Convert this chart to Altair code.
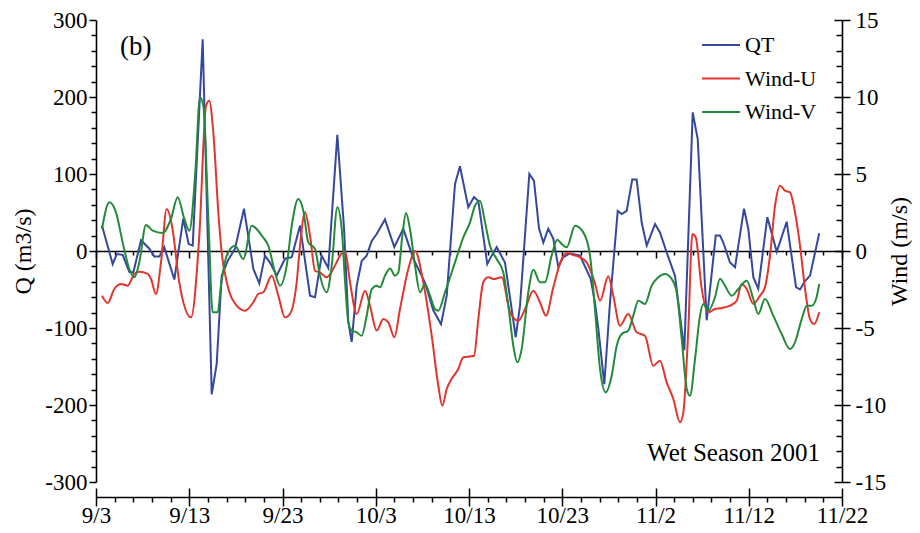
import altair as alt
import pandas as pd

START = "2001-09-03"
SERIES = ["QT", "Wind-U", "Wind-V"]
COLORS = ["#34489c", "#e2352e", "#238a3a"]

# QT (m3/s): day offsets from 9/3 and values
qt_day = [0.64, 1.79, 2.22, 2.86, 3.57, 4.00, 4.83, 5.72, 6.25, 6.79, 7.32, 8.40, 9.36, 9.94, 10.37,
          11.44, 12.41, 12.94, 13.48, 14.16, 14.91, 15.87, 16.87, 17.51, 18.12, 18.66, 19.38, 20.27,
          20.99, 21.88, 22.95, 23.49, 24.20, 24.91, 25.88, 26.60, 27.06, 27.42, 27.96, 28.49, 29.03,
          29.57, 30.10, 30.99, 31.99, 32.95, 34.03, 35.28, 36.17, 37.00, 37.61, 38.50, 39.03, 39.92,
          40.54, 41.00, 41.96, 42.43, 42.97, 43.86, 45.01, 45.47, 46.47, 46.97, 47.51, 47.97, 48.50,
          49.04, 49.58, 50.11, 50.83, 51.90, 53.05, 53.51, 53.87, 54.51, 55.12, 55.95, 56.38, 56.91,
          57.51, 57.98, 58.52, 59.06, 59.95, 60.48, 61.20, 62.09, 63.09, 63.99, 64.53, 65.49, 66.46,
          66.92, 67.27, 67.99, 68.53, 69.49, 69.95, 70.49, 71.02, 71.99, 73.00, 74.07, 75.07, 75.50,
          76.04, 76.57, 77.56]
qt_val = [33, -17, -4, -5, -27, -28, 14, 3, -7, -7, 5, -37, 42, 9, 7,
          275, -186, -147, -32, -12, 3, 55, -23, -42, -6, -15, -32, -10,
          -8, 33, -58, -60, -6, -22, 151, 29, -92, -118, -45, -13, -6,
          13, 22, 41, 5, 29, -10, -41, -77, -95, -58, 87, 110, 57,
          70, 65, -17, -6, 5, -15, -112, -71, 100, 91, 29, 11, 29,
          16, -21, -8, -3, -6, -36, -67, -101, -173, -67, 52, 48, 52,
          93, 93, 37, 7, 35, 24, -2, -32, -129, 180, 145, -90, 20,
          20, 11, -15, -21, 55, 29, -34, -49, 44, -1, 38, -47, -50,
          -39, -32, 23]

# Wind-U (m/s)
u_day = [0.64, 1.25, 1.96, 2.68, 3.40, 4.11, 4.64, 5.54, 5.90, 6.43, 6.97, 7.58, 8.15, 8.93, 10.19,
         11.08, 11.80, 12.15, 12.58, 13.12, 13.46, 14.02, 15.09, 15.98, 16.87, 17.40, 17.94, 18.84,
         19.55, 20.27, 20.80, 21.52, 21.88, 22.41, 22.95, 23.49, 24.02, 24.74, 25.63, 26.17, 26.70,
         27.24, 27.96, 28.85, 29.38, 30.10, 30.81, 31.35, 31.99, 32.60, 33.49, 34.21, 35.10, 36.00,
         36.71, 37.14, 37.61, 38.14, 38.85, 39.39, 40.11, 40.54, 41.00, 41.53, 42.07, 42.61, 43.51,
         44.40, 45.29, 46.01, 46.90, 47.61, 48.26, 49.04, 49.94, 50.48, 51.19, 51.90, 52.62, 53.51,
         54.05, 54.94, 55.47, 56.19, 57.08, 57.98, 58.87, 59.76, 60.48, 61.20, 61.91, 62.63, 62.98,
         63.52, 63.95, 64.31, 64.96, 65.66, 66.38, 66.92, 67.99, 68.71, 69.24, 69.78, 70.49, 71.21,
         71.74, 72.28, 72.82, 73.35, 73.89, 74.42, 74.96, 75.50, 76.04, 76.57, 77.03, 77.56]
u_val = [-2.90, -3.38, -2.47, -2.14, -2.25, -1.49, -1.34, -1.49, -1.82, -2.79, -0.74, 2.73, 1.64, -2.03, -4.31,
         1.0, 9.44, 9.76, 7.7, 2.5, 0.0, -2.0, -3.55, -3.88, -3.33, -2.79, -2.68, -1.6,
         -2.9, -4.31, -4.09, -2.03, 0.34, 2.51, 1.0, -1.28, -1.39, -1.71, -0.95, -0.3, 0.0,
         -2.03, -4.09, -2.58, -3.55, -5.17, -4.42, -4.63, -5.6, -3.77, -1.17, 0.0, -2.03, -5.5,
         -8.75, -10.05, -8.96, -8.3, -7.66, -6.9, -6.85, -6.8, -4.42, -2.03, -1.71, -1.82, -1.71,
         -3.98, -4.53, -3.77, -2.58, -3.33, -4.2, -2.36, -0.52, -0.13, -0.26, -0.41, -0.74, -2.1,
         -3.23, -1.64, -2.9, -4.85, -4.09, -5.28, -5.5, -7.45, -7.12, -8.53, -9.61, -11.13, -10.5,
         -5.06, 1.1, 0.89, -2.47, -3.98, -3.77, -3.72, -3.55, -3.23, -2.14, -2.47, -3.44, -2.9,
         -2.36, -0.3, 2.94, 4.24, 3.92, 3.81, 2.51, 0.34, -2.47, -4.42, -4.74, -3.98]

# Wind-V (m/s)
v_day = [0.64, 1.43, 2.14, 2.86, 3.57, 4.11, 4.64, 5.36, 6.08, 7.15, 8.04, 8.76, 9.47, 10.01, 10.65,
         11.15, 11.51, 12.09, 12.51, 13.05, 13.40, 14.02, 14.91, 15.80, 16.70, 17.23, 17.77, 18.48,
         19.20, 19.73, 20.45, 20.99, 21.69, 22.23, 22.77, 23.49, 24.02, 24.74, 25.28, 25.88, 26.35,
         26.70, 27.06, 27.42, 27.96, 28.49, 29.03, 29.57, 30.10, 30.46, 30.99, 31.53, 32.06, 32.42,
         32.85, 33.24, 33.67, 34.21, 34.75, 35.28, 35.82, 36.35, 36.71, 37.43, 38.50, 39.39, 40.11,
         40.64, 41.18, 41.72, 42.25, 42.97, 43.68, 44.22, 44.75, 45.18, 45.65, 46.36, 46.90, 47.61,
         48.15, 48.86, 49.47, 49.94, 50.48, 51.37, 52.26, 52.98, 53.51, 54.05, 54.66, 55.30, 55.84,
         56.38, 57.08, 57.62, 58.16, 58.87, 59.59, 60.30, 61.02, 61.74, 62.27, 62.81, 63.35, 63.70,
         64.24, 64.77, 65.13, 65.66, 66.38, 66.92, 67.45, 68.17, 68.88, 69.78, 70.49, 71.02, 71.74,
         72.63, 73.53, 74.42, 74.96, 75.68, 76.22, 76.76, 77.22, 77.56]
v_val = [1.43, 3.16, 2.51, 0.56, -1.17, -1.71, -0.74, 1.69, 1.32, 1.17, 2.08, 3.49, 2.08, 1.32, 5.11,
         9.98, 9.44, 1.43, -3.98, -3.98, -2.25, -0.3, 0.34, -0.52, 1.64, 1.43, 1.0, 0.34,
         -1.39, -2.25, -0.95, 1.64, 3.38, 2.62, 0.56, 0.13, -1.6, -2.68, -0.95, 2.84, 1.43,
         -1.9, -4.63, -5.17, -5.28, -5.5, -4.2, -2.47, -2.25, -2.36, -1.6, -1.13, -1.6, -1.39,
         1.0, 2.47, 1.43, -0.95, -2.68, -2.14, -2.9, -3.77, -3.88, -2.68, -0.74, 0.89, 1.86,
         2.94, 3.27, 1.86, 0.34, -0.52, -1.39, -3.55, -6.15, -7.23, -6.36, -2.68, -1.21, -2.03,
         -2.03, -0.3, 0.73, 0.45, 0.24, 1.64, 1.21, -0.3, -3.8, -7.66, -9.18, -8.1, -6.15,
         -5.39, -5.17, -4.2, -3.23, -3.44, -2.25, -1.71, -1.49, -1.82, -2.68, -5.71, -8.96, -9.4,
         -7.01, -4.2, -3.44, -3.88, -3.0, -1.8, -2.25, -2.9, -2.47, -1.93, -3.12, -4.09, -3.12,
         -4.2, -5.39, -6.36, -5.93, -4.42, -3.55, -3.55, -3.12, -2.14]

Q_TICKS = list(range(-300, 301, 20))
WIND_TICKS = list(range(-15, 16, 1))

W, H = 746, 462


def frame(days, vals, name):
    dates = (pd.Timestamp(START) + pd.to_timedelta(days, unit="D")).round("min")
    return pd.DataFrame({"date": dates, "value": vals, "series": name})


qt_df = frame(qt_day, qt_val, "QT")
wind_df = pd.concat([frame(u_day, u_val, "Wind-U"), frame(v_day, v_val, "Wind-V")], ignore_index=True)

all_dates = pd.date_range("2001-09-03", "2001-11-22", freq="2D")
minor_vals = [alt.DateTime(year=d.year, month=d.month, date=d.day) for d in all_dates]
major_vals = [alt.DateTime(year=d.year, month=d.month, date=d.day)
              for d in pd.date_range("2001-09-03", "2001-11-22", freq="10D")]

IS_MAJOR_X = "round((datum.value - datetime(2001, 8, 3)) / 86400000) % 10 === 0"

x_scale = alt.Scale(domain=[alt.DateTime(year=2001, month=9, date=3),
                            alt.DateTime(year=2001, month=11, date=22)], nice=False)
q_scale = alt.Scale(domain=[-300, 300], nice=False, zero=False)
w_scale = alt.Scale(domain=[-15, 15], nice=False, zero=False)
color_scale = alt.Scale(domain=SERIES, range=COLORS)

legend = alt.Legend(orient="none", legendX=605, legendY=5, title=None, symbolType="stroke",
                    symbolSize=1444, symbolStrokeWidth=2, labelFont="Liberation Serif",
                    labelFontSize=22, labelColor="black", rowPadding=2.5, labelOffset=4, padding=0)

x_main_axis = alt.Axis(orient="bottom", offset=15, values=minor_vals, title=None,
                       labelExpr=f"({IS_MAJOR_X}) ? timeFormat(datum.value, '%-m/%-d') : ''",
                       tickSize={"condition": {"test": IS_MAJOR_X, "value": 9}, "value": 5},
                       labelPadding=-2, labelFlush=False, labelOverlap=False)
x_zero_axis = alt.Axis(orient="bottom", offset=-H / 2, values=minor_vals, title=None, labels=False,
                       tickSize={"condition": {"test": IS_MAJOR_X, "value": 7}, "value": 4})
x_cross_axis = alt.Axis(orient="top", offset=-(H + 15), values=major_vals, title=None,
                        labels=False, domain=False, tickSize=9)

left_axis = alt.Axis(orient="left", values=Q_TICKS, title="Q (m3/s)",
                     labelExpr="datum.value % 100 === 0 ? '' + datum.value : ''",
                     tickSize={"condition": {"test": "datum.value % 100 === 0", "value": 7}, "value": 5},
                     labelPadding=2, labelOverlap=False, titlePadding=9)
right_axis = alt.Axis(orient="right", values=WIND_TICKS, title="Wind (m/s)", titleAngle=270,
                      labelExpr="datum.value % 5 === 0 ? '' + datum.value : ''",
                      tickSize={"condition": {"test": "datum.value % 5 === 0", "value": 8}, "value": 0},
                      labelPadding=5, labelOverlap=False, titlePadding=26)
right_inner_axis = alt.Axis(orient="left", offset=-W, values=WIND_TICKS, title=None, labels=False,
                            domain=False,
                            tickSize={"condition": {"test": "datum.value % 5 === 0", "value": 8}, "value": 6})

qt_line = alt.Chart(qt_df).mark_line(strokeWidth=2).encode(
    x=alt.X("date:T", scale=x_scale, axis=x_main_axis),
    y=alt.Y("value:Q", scale=q_scale, axis=left_axis),
    color=alt.Color("series:N", scale=color_scale, legend=legend),
)

wind_line = alt.Chart(wind_df).mark_line(strokeWidth=2, interpolate="monotone").encode(
    x=alt.X("date:T", scale=x_scale, axis=x_zero_axis),
    y=alt.Y("value:Q", scale=w_scale, axis=right_axis),
    color=alt.Color("series:N", scale=color_scale, legend=legend),
    detail="series:N",
)

wind_helper = alt.Chart(wind_df).mark_point(opacity=0).encode(
    x=alt.X("date:T", scale=x_scale, axis=x_cross_axis),
    y=alt.Y("value:Q", scale=w_scale, axis=right_inner_axis),
)

wind_layer = alt.layer(wind_line, wind_helper).resolve_axis(x="independent", y="independent")

panel_label = alt.Chart(pd.DataFrame({"t": ["(b)"]})).mark_text(
    font="Liberation Serif", fontSize=27, align="left", baseline="middle", color="black"
).encode(text="t:N", x=alt.value(24), y=alt.value(27))

season_label = alt.Chart(pd.DataFrame({"t": ["Wet Season 2001"]})).mark_text(
    font="Liberation Serif", fontSize=25, align="right", baseline="alphabetic", color="black"
).encode(text="t:N", x=alt.value(724), y=alt.value(441))

chart = alt.layer(qt_line, wind_layer, panel_label, season_label).resolve_scale(
    y="independent"
).resolve_axis(
    x="independent", y="independent"
).properties(
    width=W, height=H,
    autosize=alt.AutoSizeParams(type="none"),
    padding={"left": 88, "top": 12, "right": 70, "bottom": 47},
).configure_axis(
    labelFont="Liberation Serif", titleFont="Liberation Serif", labelColor="black",
    titleColor="black", domainColor="black", tickColor="black", titleFontWeight="normal",
    labelFontSize=23, titleFontSize=24, domainWidth=1.6, tickWidth=1.5, grid=False,
).configure_view(stroke=None)

chart.save("out.html", embed_options={"renderer": "svg", "actions": False})
